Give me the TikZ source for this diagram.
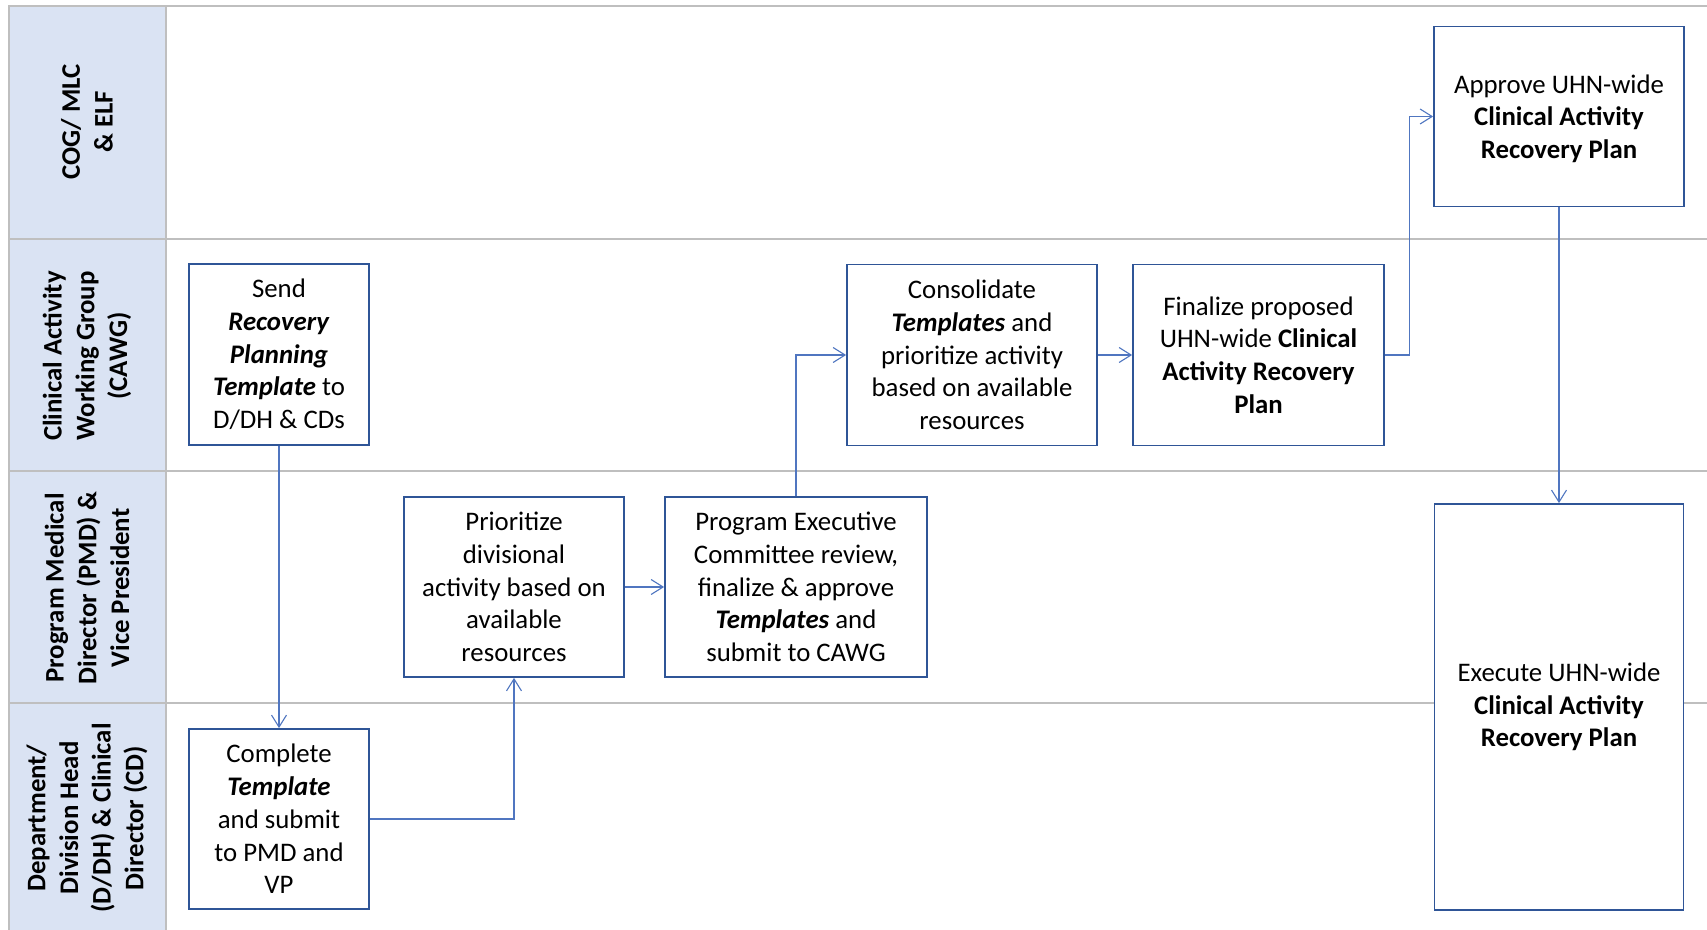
\documentclass[tikz,border=0pt]{standalone}
\usepackage{fontspec}
\setmainfont{Carlito}
\usetikzlibrary{arrows.meta}
\definecolor{lanefill}{RGB}{218,227,243}
\definecolor{laneline}{RGB}{191,191,191}
\definecolor{boxblue}{RGB}{47,85,151}
\definecolor{linkblue}{RGB}{80,118,192}
\newcommand{\bi}[1]{\textbf{\textit{#1}}}
\begin{document}
\begin{tikzpicture}[x=0.5pt,y=-0.5pt,
  every node/.style={font=\fontsize{13.4}{16.35}\selectfont},
  task/.style={draw=boxblue,line width=0.9pt,fill=white,align=center,inner sep=0pt},
  lanetitle/.style={rotate=90,align=center,font=\fontsize{13.4}{16.35}\selectfont\bfseries},
  link/.style={draw=linkblue,line width=0.55pt,-{Straight Barb[length=6pt,width=7.5pt]}}]
\useasboundingbox (0,0) rectangle (1707,930);
\fill[lanefill] (8.7,6.5) rectangle (165.5,930);
\draw[laneline,line width=1pt] (1707,6.5)--(8.7,6.5)--(8.7,930);
\draw[laneline,line width=1pt] (165.5,6.5)--(165.5,930);
\draw[laneline,line width=1pt] (8.7,239.5)--(1707,239.5);
\draw[laneline,line width=1pt] (8.7,471.4)--(1707,471.4);
\draw[laneline,line width=1pt] (8.7,703.3)--(1707,703.3);
\node[lanetitle] (cog) at (87,122) {COG/ MLC\\ \& ELF};
\node[lanetitle] (cawg) at (87,356) {Clinical Activity\\Working Group\\(CAWG)};
\node[lanetitle] (pmd) at (87,588) {Program Medical\\Director (PMD) \&\\Vice President};
\node[lanetitle] (ddh) at (87,818) {Department/\\Division Head\\(D/DH) \& Clinical\\Director (CD)};
\node[task,minimum width=90pt,minimum height=90.5pt] (send) at (279,354.5) {Send\\\bi{Recovery}\\\bi{Planning}\\\bi{Template} to\\D/DH \& CDs};
\node[task,minimum width=90pt,minimum height=90pt] (complete) at (279,819) {Complete\\\bi{Template}\\and submit\\to PMD and\\VP};
\node[task,minimum width=110pt,minimum height=90pt] (prio) at (514,587) {Prioritize\\divisional\\activity based on\\available\\resources};
\node[task,minimum width=131pt,minimum height=90pt] (pec) at (796,587) {Program Executive\\Committee review,\\finalize \& approve\\\bi{Templates} and\\submit to CAWG};
\node[task,minimum width=125pt,minimum height=90.5pt] (consol) at (972,355) {Consolidate\\\bi{Templates} and\\prioritize activity\\based on available\\resources};
\node[task,minimum width=125.5pt,minimum height=90.5pt] (final) at (1258.5,355) {Finalize proposed\\UHN-wide \textbf{Clinical}\\\textbf{Activity Recovery}\\\textbf{Plan}};
\node[task,minimum width=125pt,minimum height=90pt,text depth=-2pt] (approve) at (1559,116.5) {Approve UHN-wide\\\textbf{Clinical Activity}\\\textbf{Recovery Plan}};
\node[task,minimum width=124.5pt,minimum height=203pt] (execute) at (1559,707) {Execute UHN-wide\\\textbf{Clinical Activity}\\\textbf{Recovery Plan}};
\draw[link] (send.south)--(complete.north);
\draw[link] (complete.east)-|(prio.south);
\draw[link] (prio.east)--(pec.west);
\draw[link] (pec.north)|-(consol.west);
\draw[link] (consol.east)--(final.west);
\draw[link] (final.east)--++(25,0)|-(approve.west);
\draw[link] (approve.south)--(execute.north);
\end{tikzpicture}
\end{document}
